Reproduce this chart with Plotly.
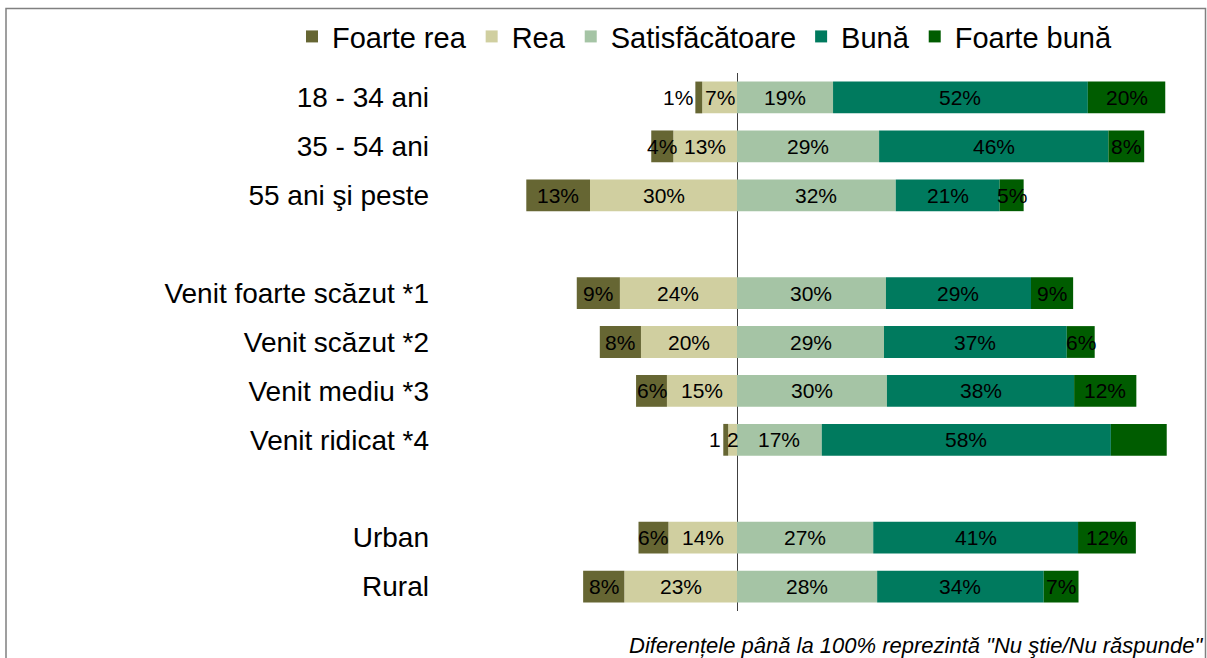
import plotly.graph_objects as go

# ---------------- data ----------------
categories = ["18 - 34 ani", "35 - 54 ani", "55 ani şi peste", " ",
              "Venit foarte scăzut *1", "Venit scăzut *2", "Venit mediu *3", "Venit ridicat *4", "  ",
              "Urban", "Rural"]
rows = ["18 - 34 ani", "35 - 54 ani", "55 ani şi peste",
        "Venit foarte scăzut *1", "Venit scăzut *2", "Venit mediu *3", "Venit ridicat *4",
        "Urban", "Rural"]

series_names = ["Foarte rea", "Rea", "Satisfăcătoare", "Bună", "Foarte bună"]

foarte_rea = [1.4, 4.5, 13.0, 8.8, 8.4, 6.3, 1.0, 6.1, 8.4]
rea = [7.1, 13.0, 30.0, 23.9, 19.6, 14.3, 1.8, 14.0, 23.0]
satisf = [19.6, 29.0, 32.4, 30.4, 30.0, 30.6, 17.3, 27.8, 28.6]
buna = [52.0, 46.8, 21.2, 29.6, 37.3, 38.2, 59.0, 41.8, 34.0]
foarte_buna = [15.8, 7.3, 4.9, 8.6, 5.7, 12.7, 11.4, 11.8, 7.1]

lbl_foarte_rea = ["1%", "4%", "13%", "9%", "8%", "6%", "1", "6%", "8%"]
lbl_rea = ["7%", "13%", "30%", "24%", "20%", "15%", "2", "14%", "23%"]
lbl_satisf = ["19%", "29%", "32%", "30%", "29%", "30%", "17%", "27%", "28%"]
lbl_buna = ["52%", "46%", "21%", "29%", "37%", "38%", "58%", "41%", "34%"]
lbl_foarte_buna = ["20%", "8%", "5%", "9%", "6%", "12%", "", "12%", "7%"]

footnote = "Diferențele până la 100% reprezintă \"Nu ştie/Nu răspunde\""

colors = {"Foarte rea": "#666633", "Rea": "#D0CFA0", "Satisfăcătoare": "#A5C4A5",
          "Bună": "#007A5E", "Foarte bună": "#005C00"}

# ---------------- layout geometry ----------------
W, H = 1207, 658
ML, MR, MT, MB = 440, 17, 72.5, 46.5
PW, PH = W - ML - MR, H - MT - MB
PX_PER_PCT = 4.9
ZERO_PX = 737
x_range = [-(ZERO_PX - ML) / PX_PER_PCT, (W - MR - ZERO_PX) / PX_PER_PCT]

LABEL_FONT = dict(family="Liberation Sans, Arial", size=21, color="#000000")
TEXT_FONT = dict(family="Liberation Sans, Arial, sans-serif", color="#000000")

fig = go.Figure()

# negative side: Rea nearest zero, then Foarte rea
neg = [("Rea", rea), ("Foarte rea", foarte_rea)]
pos = [("Satisfăcătoare", satisf), ("Bună", buna), ("Foarte bună", foarte_buna)]
rank = {n: i for i, n in enumerate(series_names)}

for name, vals in neg:
    fig.add_trace(go.Bar(y=rows, x=[-v for v in vals], name=name, orientation="h",
                         marker=dict(color=colors[name], line=dict(width=0)),
                         legendrank=rank[name], hoverinfo="skip", width=0.65))
for name, vals in pos:
    fig.add_trace(go.Bar(y=rows, x=vals, name=name, orientation="h",
                         marker=dict(color=colors[name], line=dict(width=0)),
                         legendrank=rank[name], hoverinfo="skip", width=0.65))

# data labels
annotations = []
for i, r in enumerate(rows):
    annotations.append(dict(x=-rea[i] / 2, y=r, text=lbl_rea[i], showarrow=False,
                            xanchor="center", font=LABEL_FONT))
    left = -(rea[i] + foarte_rea[i])
    if foarte_rea[i] < 2:
        annotations.append(dict(x=left, y=r, text=lbl_foarte_rea[i], showarrow=False,
                                xanchor="right", font=LABEL_FONT))
    else:
        annotations.append(dict(x=-(rea[i] + foarte_rea[i] / 2), y=r, text=lbl_foarte_rea[i],
                                showarrow=False, xanchor="center", font=LABEL_FONT))
    cum = 0
    for vals, lbls in [(satisf, lbl_satisf), (buna, lbl_buna), (foarte_buna, lbl_foarte_buna)]:
        if lbls[i]:
            annotations.append(dict(x=cum + vals[i] / 2, y=r, text=lbls[i], showarrow=False,
                                    xanchor="center", font=LABEL_FONT))
        cum += vals[i]

# footnote
annotations.append(dict(xref="paper", yref="paper", x=(1205 - ML) / PW, y=(H - MB - 646) / PH,
                        xanchor="right", yanchor="middle", showarrow=False, text=footnote,
                        font=dict(family="Liberation Sans, Arial", size=22, color="#000000", style="italic")))

# frame (open at the bottom)
shapes = [dict(type="path", xref="paper", yref="paper",
               path=f"M {(6 - ML) / PW},{(H - MB - 670) / PH} L {(6 - ML) / PW},{(H - MB - 8) / PH} "
                    f"L {(1205.5 - ML) / PW},{(H - MB - 8) / PH} L {(1205.5 - ML) / PW},{(H - MB - 670) / PH}",
               line=dict(color="#808080", width=1.5))]

fig.update_layout(
    width=W, height=H,
    margin=dict(l=ML, r=MR, t=MT, b=MB, autoexpand=False),
    barmode="relative",
    bargap=0.35,
    plot_bgcolor="white", paper_bgcolor="white",
    font=TEXT_FONT,
    xaxis=dict(range=x_range, showgrid=False, showticklabels=False, ticks="",
               zeroline=True, zerolinecolor="#404040", zerolinewidth=1, fixedrange=True),
    yaxis=dict(type="category", categoryorder="array", categoryarray=categories,
               range=[len(categories) - 0.5, -0.5], showgrid=False, ticks="",
               tickfont=dict(family="Liberation Sans, Arial", size=28, color="#000000"),
               ticklabelstandoff=10, fixedrange=True),
    legend=dict(orientation="h", xref="paper", yref="paper",
                x=(292 - ML) / PW, xanchor="left", y=(H - MB - 36) / PH, yanchor="middle",
                font=dict(family="Liberation Sans, Arial", size=29, color="#000000"),
                traceorder="normal", itemwidth=30,
                bgcolor="rgba(0,0,0,0)"),
    annotations=annotations,
    shapes=shapes,
    showlegend=True,
)

fig.write_html("out.html", config={"displayModeBar": False},
               post_script="document.body.style.margin='0px';document.body.style.overflow='hidden';")
